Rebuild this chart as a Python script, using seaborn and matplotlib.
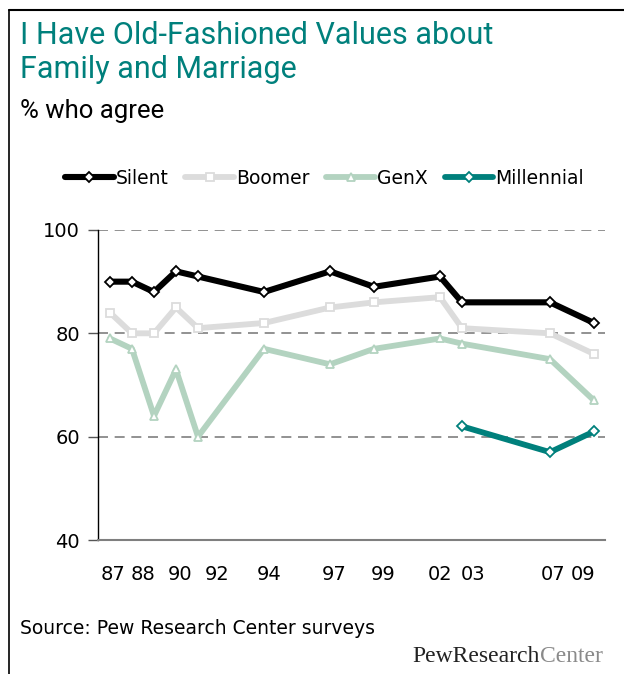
import numpy as np
import pandas as pd
import seaborn as sns
from matplotlib import pyplot as plt
from matplotlib.lines import Line2D

# survey years and % who agree, by generation
years = [1987, 1988, 1989, 1990, 1991, 1994, 1997, 1999, 2002, 2003, 2007, 2009]
silent = [90, 90, 88, 92, 91, 88, 92, 89, 91, 86, 86, 82]
boomer = [84, 80, 80, 85, 81, 82, 85, 86, 87, 81, 80, 76]
genx = [79, 77, 64, 73, 60, 77, 74, 77, 79, 78, 75, 67]
millennial = [np.nan] * 9 + [62, 57, 61]

generations = ["Silent", "Boomer", "GenX", "Millennial"]
colors = ["#000000", "#dcdcdc", "#b3d3c0", "#00807c"]
markers = ["D", "s", "^", "D"]

tick_labels = ["87", "88", "90", "92", "94", "97", "99", "02", "03", "07", "09"]
tick_pos = [1987.14, 1988.5, 1990.18, 1991.86, 1994.23, 1997.18, 1999.41,
            2002.0, 2003.5, 2007.14, 2008.5]

df = pd.DataFrame({"year": years, "Silent": silent, "Boomer": boomer,
                   "GenX": genx, "Millennial": millennial})
long_df = df.melt(id_vars="year", var_name="gen", value_name="pct").dropna()

sns.set_theme(style="white")
plt.rcParams['font.family'] = ['DejaVu Sans']
plt.rcParams['text.color'] = 'black'

fig = plt.figure(figsize=(6.24, 6.74), dpi=100)
ax = fig.add_axes([98 / 624, 1 - 540 / 674, 507 / 624, 310 / 674])

for gen, c, m in zip(generations, colors, markers):
    sub = long_df[long_df["gen"] == gen]
    sns.lineplot(data=sub, x="year", y="pct", color=c, marker=m,
                 markersize=5.5 if m != "D" else 5, markerfacecolor="white",
                 markeredgecolor=c, markeredgewidth=1.3,
                 linewidth=4.4 if gen == "Silent" else 4.2,
                 label=gen, ax=ax, zorder=3)

ax.set_xlim(1986.455, 2009.5)
ax.set_ylim(40, 100)
ax.set_yticks([40, 60, 80, 100])
ax.set_xticks(tick_pos)
ax.set_xticklabels(tick_labels)
ax.set_xlabel("")
ax.set_ylabel("")

for y in [60, 80, 100]:
    ax.axhline(y, color="#7f7f7f", linestyle=(0, (6, 4)), linewidth=1.2, zorder=1)

for s in ["top", "right"]:
    ax.spines[s].set_visible(False)
ax.spines["left"].set_color("black")
ax.spines["left"].set_linewidth(1)
ax.spines["bottom"].set_color("#7f7f7f")
ax.spines["bottom"].set_linewidth(1.5)
ax.tick_params(axis="y", left=True, length=7, width=1, color="#555555",
               labelsize=14, pad=6, labelcolor="black")
ax.tick_params(axis="x", bottom=False, labelsize=14, pad=12, labelcolor="black")

ax.get_legend().remove()
handles, labels = ax.get_legend_handles_labels()
fig.legend(handles, labels, loc="center", bbox_to_anchor=(0.52, 1 - 178 / 674),
           ncol=4, frameon=False, fontsize=13.5, handlelength=2.6,
           handletextpad=0.1, columnspacing=0.9, numpoints=1,
           labelcolor="black")

teal = "#00807c"
fig.text(20 / 624, 1 - 36 / 674, "I Have Old-Fashioned Values about",
         color=teal, fontsize=22, family="Roboto", va="center")
fig.text(20 / 624, 1 - 70 / 674, "Family and Marriage",
         color=teal, fontsize=22, family="Roboto", va="center")
fig.text(20 / 624, 1 - 111 / 674, "% who agree", color="black",
         fontsize=18.5, family="Roboto", va="center")
fig.text(20 / 624, 1 - 628 / 674, "Source: Pew Research Center surveys",
         color="black", fontsize=13.5, va="center")

center = fig.text(603 / 624, 1 - 662 / 674, "Center", color="#8a8a8a",
                  fontsize=17, family="Liberation Serif", ha="right",
                  va="baseline")
fig.canvas.draw()
bb = center.get_window_extent()
fig.text(bb.x0 / fig.bbox.width, 1 - 662 / 674, "PewResearch",
         color="#222222", fontsize=17, family="Liberation Serif",
         ha="right", va="baseline")

# outer frame (top and left)
fig.add_artist(Line2D([9 / 624, 1], [1 - 10 / 674] * 2, color="black", linewidth=1.5))
fig.add_artist(Line2D([9 / 624] * 2, [0, 1 - 10 / 674], color="black", linewidth=1.2))

fig.savefig("out.png", dpi=100)
